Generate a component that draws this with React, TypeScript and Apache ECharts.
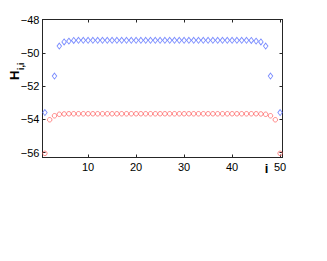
import React, { useEffect, useRef } from "react";
import * as echarts from "echarts";

const iValues = [
  1, 2, 3, 4, 5, 6, 7, 8, 9, 10, 11, 12, 13, 14, 15, 16, 17, 18, 19, 20,
  21, 22, 23, 24, 25, 26, 27, 28, 29, 30, 31, 32, 33, 34, 35, 36, 37, 38, 39, 40,
  41, 42, 43, 44, 45, 46, 47, 48, 49, 50,
];

const blueValues: (number | null)[] = [
  -53.6, null, -51.4, -49.6, -49.35, -49.3, -49.26, -49.25, -49.25, -49.25,
  -49.25, -49.25, -49.25, -49.25, -49.25, -49.25, -49.25, -49.25, -49.25, -49.25,
  -49.25, -49.25, -49.25, -49.25, -49.25, -49.25, -49.25, -49.25, -49.25, -49.25,
  -49.25, -49.25, -49.25, -49.25, -49.25, -49.25, -49.25, -49.25, -49.25, -49.25,
  -49.25, -49.25, -49.25, -49.26, -49.3, -49.35, -49.6, -51.4, null, -53.6,
];

const redValues: number[] = [
  -56.05, -54.03, -53.79, -53.7, -53.68, -53.67, -53.67, -53.67, -53.67, -53.67,
  -53.67, -53.67, -53.67, -53.67, -53.67, -53.67, -53.67, -53.67, -53.67, -53.67,
  -53.67, -53.67, -53.67, -53.67, -53.67, -53.67, -53.67, -53.67, -53.67, -53.67,
  -53.67, -53.67, -53.67, -53.67, -53.67, -53.67, -53.67, -53.67, -53.67, -53.67,
  -53.67, -53.67, -53.67, -53.67, -53.67, -53.68, -53.7, -53.79, -54.03, -56.05,
];

const xTicks = [10, 20, 30, 40, 50];
const yTicks = [-56, -54, -52, -50, -48];

const FONT = "Liberation Sans, Arial, Helvetica, sans-serif";
const AXIS_COLOR = "#262626";

export default function App() {
  const ref = useRef<HTMLDivElement>(null);

  useEffect(() => {
    if (!ref.current) return;
    const chart = echarts.init(ref.current, undefined, { renderer: "svg" });

    const blueData = iValues
      .map((x, k) => [x, blueValues[k]])
      .filter((p) => p[1] !== null);
    const redData = iValues.map((x, k) => [x, redValues[k]]);

    const xAxisBase = {
      type: "value" as const,
      min: 0.5,
      max: 50.5,
      axisLine: { show: true, onZero: false, lineStyle: { color: AXIS_COLOR, width: 1 } },
      axisTick: {
        show: true,
        inside: true,
        length: 3,
        customValues: xTicks,
        lineStyle: { color: AXIS_COLOR },
      },
      splitLine: { show: false },
    };
    const yAxisBase = {
      type: "value" as const,
      min: -56.3,
      max: -48,
      axisLine: { show: true, onZero: false, lineStyle: { color: AXIS_COLOR, width: 1 } },
      axisTick: {
        show: true,
        inside: true,
        length: 3,
        customValues: yTicks,
        lineStyle: { color: AXIS_COLOR },
      },
      splitLine: { show: false },
    };

    chart.setOption({
      animation: false,
      backgroundColor: "#ffffff",
      grid: { left: 42.5, right: 44.5, top: 19.5, bottom: 103.5, containLabel: false },
      xAxis: [
        {
          ...xAxisBase,
          position: "bottom",
          axisLabel: {
            show: true,
            customValues: xTicks,
            color: "#000",
            fontSize: 11,
            fontFamily: FONT,
            margin: 4,
          },
        },
        {
          ...xAxisBase,
          position: "top",
          axisLabel: { show: false },
        },
      ],
      yAxis: [
        {
          ...yAxisBase,
          position: "left",
          axisLabel: {
            show: true,
            customValues: yTicks,
            color: "#000",
            fontSize: 11,
            fontFamily: FONT,
            margin: 3,
            formatter: (v: number) => String(v).replace("-", "\u2212"),
          },
        },
        {
          ...yAxisBase,
          position: "right",
          axisLabel: { show: false },
        },
      ],
      series: [
        {
          type: "scatter",
          xAxisIndex: 0,
          yAxisIndex: 0,
          data: blueData,
          symbol: "diamond",
          symbolSize: [4.5, 6],
          itemStyle: { color: "transparent", borderColor: "#5a70ff", borderWidth: 0.9 },
        },
        {
          type: "scatter",
          xAxisIndex: 0,
          yAxisIndex: 0,
          data: redData,
          symbol: "circle",
          symbolSize: 4.5,
          itemStyle: { color: "transparent", borderColor: "#ff5a5a", borderWidth: 0.9 },
        },
      ],
      graphic: [
        {
          type: "group",
          x: 21,
          y: 80,
          rotation: Math.PI / 2,
          children: [
            {
              type: "text",
              x: 0,
              y: 0,
              style: {
                text: "H",
                font: `bold 13px ${FONT}`,
                fill: "#000",
                textAlign: "left",
                textVerticalAlign: "bottom",
              },
            },
            {
              type: "text",
              x: 10,
              y: 4,
              style: {
                text: "i,i",
                font: `bold 9px ${FONT}`,
                fill: "#000",
                textAlign: "left",
                textVerticalAlign: "bottom",
              },
            },
          ],
        },
        {
          type: "text",
          x: 266.5,
          y: 175,
          style: {
            text: "i",
            font: `bold 13px ${FONT}`,
            fill: "#000",
            textAlign: "center",
            textVerticalAlign: "bottom",
          },
        },
      ],
    });

    return () => chart.dispose();
  }, []);

  return (
    <div
      ref={ref}
      style={{ position: "fixed", left: 0, top: 0, width: 327, height: 261, background: "#fff" }}
    />
  );
}
